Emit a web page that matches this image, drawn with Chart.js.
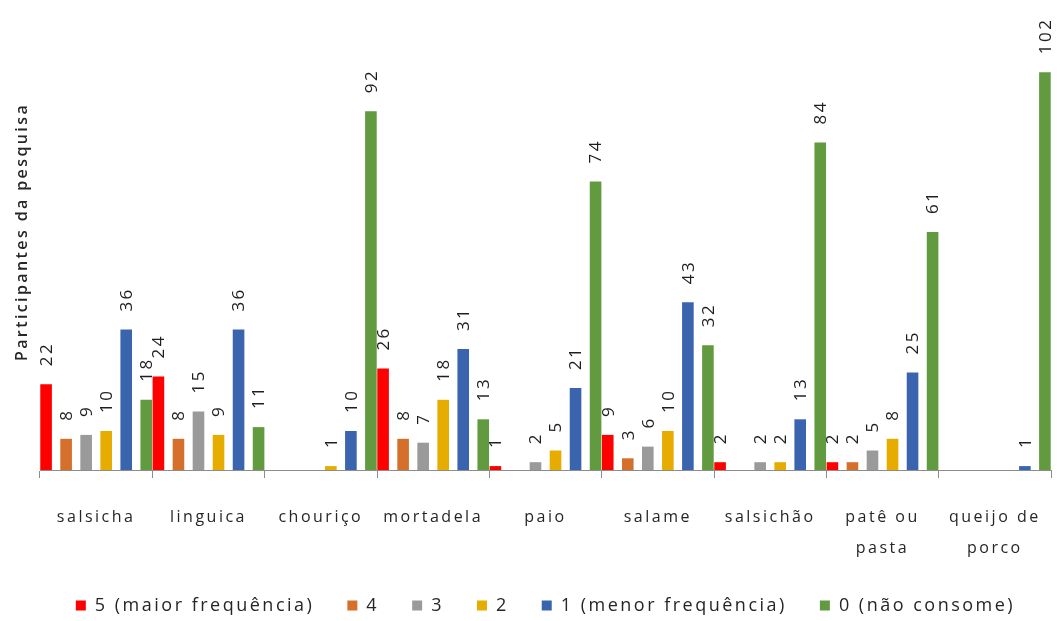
<!DOCTYPE html>
<html lang="pt">
<head>
<meta charset="UTF-8"/>
<title>Frequência de consumo de embutidos</title>
<script src="https://cdn.jsdelivr.net/npm/chart.js"></script>
<style>
  html, body { margin: 0; padding: 0; background: #fff; }
  #wrap { width: 1060px; height: 621px; }
</style>
<script>
    // produtos e respostas por nível de frequência
    const produtos = ["salsicha", "linguica", "chouriço", "mortadela", "paio", "salame", "salsichão", ["patê ou", "pasta"], ["queijo de", "porco"]];
    const freq5 = [22, 24, 0, 26, 1, 9, 2, 2, 0];
    const freq4 = [8, 8, 0, 8, 0, 3, 0, 2, 0];
    const freq3 = [9, 15, 0, 7, 2, 6, 2, 5, 0];
    const freq2 = [10, 9, 1, 18, 5, 10, 2, 8, 0];
    const freq1 = [36, 36, 10, 31, 21, 43, 13, 25, 1];
    const freq0 = [18, 11, 92, 13, 74, 32, 84, 61, 102];
    const serieNomes = ["5 (maior frequência)", "4", "3", "2", "1 (menor frequência)", "0 (não consome)"];
    const serieCores = ["#ff0000", "#d4702c", "#9a9a9a", "#e6ad00", "#3b64ae", "#629b3f"];

    const spacing = '2.5px';
    const tickLen = 8, tickPad = 23.5, tickLine = 31;

    // espaçamento entre letras para todo o texto do canvas
    const letterSpacingPlugin = {
        id: 'letterSpacing',
        beforeLayout(chart) { chart.ctx.letterSpacing = spacing; },
        beforeDraw(chart) { chart.ctx.letterSpacing = spacing; }
    };

    // valores acima das barras (texto vertical) e título do eixo
    const valoresPlugin = {
        id: 'valores',
        afterDatasetsDraw(chart) {
            const ctx = chart.ctx;
            ctx.save();
            ctx.font = '17px "Open Sans"';
            ctx.fillStyle = '#1e1e1e';
            ctx.textAlign = 'left';
            ctx.textBaseline = 'middle';
            chart.data.datasets.forEach((ds, i) => {
                chart.getDatasetMeta(i).data.forEach((bar, j) => {
                    const v = ds.data[j];
                    if (!v) return;
                    ctx.save();
                    ctx.translate(bar.x + 1, bar.y - 18);
                    ctx.rotate(-Math.PI / 2);
                    ctx.fillText(String(v), 0, 0);
                    ctx.restore();
                });
            });
            ctx.restore();
        },
        afterDraw(chart) {
            const ctx = chart.ctx;
            ctx.save();
            ctx.font = '600 16px "Open Sans"';
            ctx.letterSpacing = '2.4px';
            ctx.fillStyle = '#262626';
            ctx.textAlign = 'center';
            ctx.textBaseline = 'middle';
            ctx.translate(22, 232);
            ctx.rotate(-Math.PI / 2);
            ctx.fillText('Participantes da pesquisa', 0, 0);
            ctx.restore();
        }
    };

    window.addEventListener("load", function() {
        const series = [freq5, freq4, freq3, freq2, freq1, freq0];
        const ctx = document.getElementById("grafico").getContext("2d");
        new Chart(ctx, {
            type: 'bar',
            data: {
                labels: produtos,
                datasets: series.map((d, i) => ({
                    label: serieNomes[i],
                    data: d,
                    backgroundColor: serieCores[i],
                    categoryPercentage: 1.07,
                    barPercentage: 0.58
                }))
            },
            options: {
                responsive: false,
                animation: false,
                layout: { padding: { top: 41, left: 40, right: 9, bottom: -3.5 } },
                scales: {
                    x: {
                        afterFit(scale) {
                            scale.paddingLeft = 0;
                            scale.paddingRight = 0;
                            scale.height = tickLen + tickPad + 2 * tickLine;
                        },
                        grid: { offset: true, drawOnChartArea: false, drawTicks: true, tickLength: tickLen, color: '#8c8c8c' },
                        border: { display: true, color: '#8c8c8c' },
                        ticks: {
                            color: '#262626',
                            padding: tickPad,
                            maxRotation: 0,
                            autoSkip: false,
                            font: { family: 'Open Sans', size: 16, lineHeight: tickLine / 16 }
                        }
                    },
                    y: { display: false, min: 0, max: 110 }
                },
                plugins: {
                    tooltip: { enabled: false },
                    legend: {
                        position: 'bottom',
                        labels: {
                            boxWidth: 10,
                            boxHeight: 10,
                            padding: 33,
                            color: '#262626',
                            font: { family: 'Open Sans', size: 18 }
                        }
                    }
                }
            },
            plugins: [letterSpacingPlugin, valoresPlugin]
        });
    }, false);
</script>
</head>
<body>
<div id="wrap"><canvas id="grafico" width="1060" height="621"></canvas></div>
</body>
</html>
